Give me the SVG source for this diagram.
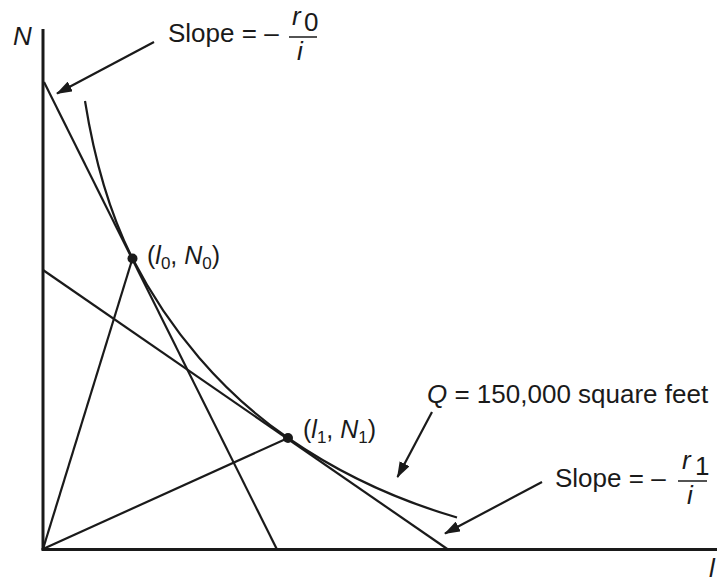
<svg xmlns="http://www.w3.org/2000/svg" width="723" height="582" viewBox="0 0 723 582">
<style>
.ax{stroke:#1a1a1a;stroke-width:3;fill:none}
.ln{stroke:#1a1a1a;stroke-width:2.2;fill:none}
.ar{stroke:#1a1a1a;stroke-width:2.2;fill:none;marker-end:url(#ah)}
.t{font-family:"Liberation Sans",Arial,sans-serif;font-size:26px;fill:#1a1a1a}
.p{font-family:"Liberation Sans",Arial,sans-serif;font-size:25px;fill:#1a1a1a}
.i{font-style:italic}
.bar{stroke:#1a1a1a;stroke-width:1.5}
</style>
<defs>
<marker id="ah" markerUnits="userSpaceOnUse" markerWidth="16" markerHeight="11" refX="15" refY="5.5" orient="auto">
<path d="M0,0 L16,5.5 L0,11 Z" fill="#1a1a1a"/>
</marker>
</defs>
<rect width="723" height="582" fill="#fff"/>
<g id="axes">
<line class="ax" x1="43" y1="29" x2="43" y2="550"/>
<line class="ax" x1="41.5" y1="549.5" x2="717" y2="549.5"/>
<text class="t i" x="13" y="45" font-size="24">N</text>
<text class="t i" x="709" y="577" font-size="24">l</text>
</g>
<g id="connectors">
<line class="ln" x1="44" y1="82" x2="277" y2="549.5"/>
<line class="ln" x1="43" y1="270" x2="448" y2="549.5"/>
<line class="ln" x1="43" y1="549" x2="132.5" y2="258.5"/>
<line class="ln" x1="43" y1="549" x2="288" y2="438"/>
<path class="ln" d="M85,101 C93,151 108,210 132.5,258.5 C168.7,329 222.1,392.6 288,438 C339,473.2 397.6,500.2 457,517.5"/>
<line class="ar" x1="154" y1="42" x2="57" y2="93.5"/>
<line class="ar" x1="432" y1="412" x2="397.5" y2="477"/>
<line class="ar" x1="542" y1="482" x2="445" y2="533.5"/>
</g>
<g id="point0">
<circle cx="132.5" cy="258.5" r="5" fill="#1a1a1a"/>
<text class="p" x="147" y="264">(<tspan class="i">l</tspan><tspan font-size="17" dy="5">0</tspan><tspan dy="-5">, </tspan><tspan class="i">N</tspan><tspan font-size="17" dy="5">0</tspan><tspan dy="-5">)</tspan></text>
</g>
<g id="point1">
<circle cx="288" cy="438" r="5" fill="#1a1a1a"/>
<text class="p" x="303" y="438">(<tspan class="i">l</tspan><tspan font-size="17" dy="5">1</tspan><tspan dy="-5">, </tspan><tspan class="i">N</tspan><tspan font-size="17" dy="5">1</tspan><tspan dy="-5">)</tspan></text>
</g>
<g id="slope0">
<text class="t" x="168" y="42">Slope = –</text>
<line class="bar" x1="289" y1="37" x2="317" y2="37"/>
<text class="t i" x="292" y="25" font-size="23">r</text>
<text class="t" x="304" y="31" font-size="16">0</text>
<text class="t i" x="297" y="60" font-size="23">i</text>
</g>
<g id="isoquant-label">
<text class="t" x="427" y="403"><tspan class="i">Q</tspan> = 150,000 square feet</text>
</g>
<g id="slope1">
<text class="t" x="555" y="487">Slope = –</text>
<line class="bar" x1="678" y1="481" x2="707" y2="481"/>
<text class="t i" x="682" y="469" font-size="23">r</text>
<text class="t" x="695" y="475" font-size="16">1</text>
<text class="t i" x="687" y="504" font-size="23">i</text>
</g>
</svg>
